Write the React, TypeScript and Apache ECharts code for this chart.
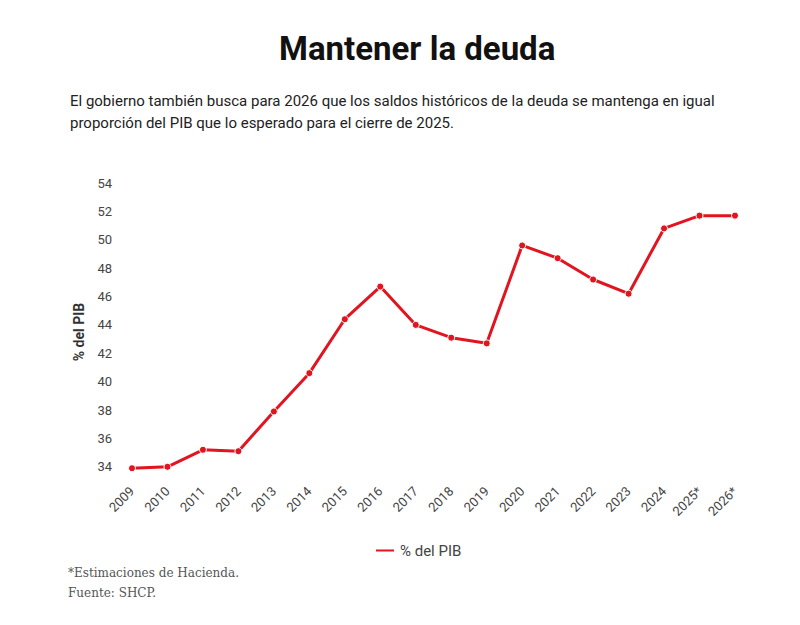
import React, { useEffect, useRef } from "react";
import * as echarts from "echarts";

const years = ["2009","2010","2011","2012","2013","2014","2015","2016","2017","2018","2019","2020","2021","2022","2023","2024","2025*","2026*"];
const pctPIB = [33.9, 34.0, 35.2, 35.1, 37.9, 40.6, 44.4, 46.7, 44.0, 43.1, 42.7, 49.6, 48.7, 47.2, 46.2, 50.8, 51.7, 51.7];
const seriesName = "% del PIB";
const titleText = "Mantener la deuda";
const subtitleLines = [
  "El gobierno también busca para 2026 que los saldos históricos de la deuda se mantenga en igual",
  "proporción del PIB que lo esperado para el cierre de 2025.",
];
const footerLines = ["*Estimaciones de Hacienda.", "Fuente: SHCP."];

export default function App() {
  const ref = useRef<HTMLDivElement>(null);
  useEffect(() => {
    if (!ref.current) return;
    const chart = echarts.init(ref.current, null, { renderer: "svg" });
    const red = "#e1141f";
    chart.setOption({
      animation: false,
      backgroundColor: "#ffffff",
      graphic: [
        {
          type: "text",
          left: 279,
          top: 32,
          style: { text: titleText, font: "bold 33px Roboto", fill: "#111" },
        },
        {
          type: "text",
          left: 70,
          top: 90,
          style: {
            text: subtitleLines.join("\n"),
            font: "15px Roboto",
            lineHeight: 22,
            fill: "#222",
          },
        },
        {
          type: "text",
          left: 68,
          top: 563,
          style: {
            text: footerLines.join("\n"),
            font: "12px 'DejaVu Serif'",
            lineHeight: 20,
            fill: "#555",
          },
        },
      ],
      legend: {
        data: [{ name: seriesName, icon: "rect" }],
        left: 369,
        top: 538,
        itemWidth: 20,
        itemHeight: 4,
        itemGap: 8,
        textStyle: { fontFamily: "Roboto", fontSize: 15, color: "#444" },
      },
      grid: { left: 132, right: 65, top: 183, bottom: 144, containLabel: false },
      xAxis: {
        type: "category",
        data: years,
        boundaryGap: false,
        axisLine: { show: false },
        axisTick: { show: false },
        axisLabel: {
          rotate: 45,
          margin: 8,
          interval: 0,
          fontFamily: "Roboto",
          fontSize: 13,
          color: "#444",
        },
      },
      yAxis: {
        type: "value",
        min: 33,
        max: 54,
        interval: 1,
        name: seriesName,
        nameLocation: "middle",
        nameGap: 46,
        nameTextStyle: { fontFamily: "Roboto", fontSize: 14, fontWeight: "bold", color: "#333" },
        axisLine: { show: false },
        axisTick: { show: false },
        splitLine: { show: false },
        axisLabel: {
          margin: 20,
          fontFamily: "Roboto",
          fontSize: 13,
          color: "#444",
          formatter: (v: number) => (v % 2 === 0 ? String(v) : ""),
        },
      },
      series: [
        {
          name: seriesName,
          type: "line",
          data: pctPIB,
          symbol: "circle",
          symbolSize: 7,
          lineStyle: { color: red, width: 3 },
          itemStyle: { color: red, borderColor: "#fff", borderWidth: 1 },
          clip: false,
        },
      ],
    });
    return () => chart.dispose();
  }, []);
  return (
    <div
      ref={ref}
      style={{ position: "fixed", left: 0, top: 0, width: 800, height: 625 }}
    />
  );
}
